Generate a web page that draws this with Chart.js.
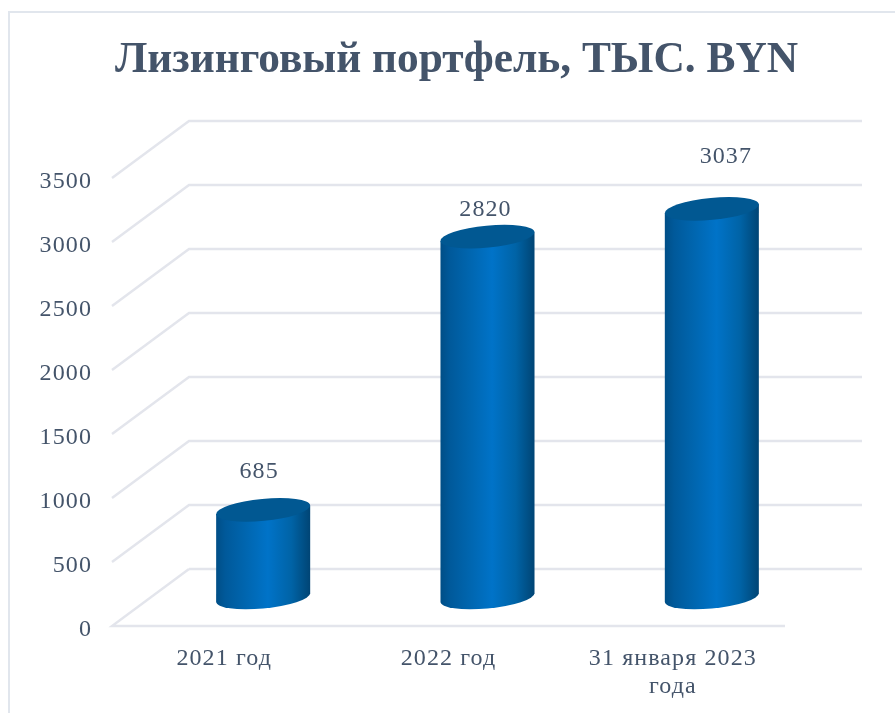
<!DOCTYPE html>
<html>
<head>
<meta charset="utf-8">
<script src="https://cdn.jsdelivr.net/npm/chart.js@4"></script>
<style>
  html, body { margin: 0; padding: 0; background: #fff; }
  #wrap { width: 895px; height: 713px; }
</style>
</head>
<body>
<div id="wrap"><canvas id="chart"></canvas></div>
<script>
const titleText = 'Лизинговый портфель, ТЫС. BYN';
const categories = ['2021 год', '2022 год', ['31 января 2023', 'года']];
const portfolio = [685, 2820, 3037];

const textColor = '#44546A';
const gridColor = '#E3E5EC';
const serif = '"Liberation Serif", serif';

// глубина "3D" стенки в пикселях
const depthX = 78;
const depthY = -57;
const tilt = -5.5 * Math.PI / 180;
const capRy = 11;
// подписи значений сдвинуты вручную, как в оригинале
const labelShift = [[-4, -38], [-2, -27], [14, -52]];

function cylinderPath(ctx, x, yTop, yBase, rx) {
  const t0 = Math.atan(-(capRy / rx) * Math.tan(tilt));
  ctx.beginPath();
  ctx.ellipse(x, yBase, rx, capRy, tilt, t0, t0 + Math.PI, false);
  ctx.ellipse(x, yTop, rx, capRy, tilt, t0 + Math.PI, t0 + Math.PI, false);
  ctx.ellipse(x, yTop, rx, capRy, tilt, t0, t0, false);
  ctx.closePath();
}

// задняя стенка, боковая стенка и пол
const wallPlugin = {
  id: 'wall',
  afterLayout(chart) {
    // заголовок центрирован по всей рамке, а не по области графика
    const title = chart.titleBlock;
    title.left = 90;
    title.right = 823;
    if (!title.wrapped) {
      const draw = title.draw;
      title.draw = function () {
        chart.ctx.letterSpacing = '0px';
        draw.call(title);
        chart.ctx.letterSpacing = '1.1px';
      };
      title.wrapped = true;
    }
  },
  beforeDatasetsDraw(chart) {
    const { ctx, chartArea, scales } = chart;
    ctx.save();
    ctx.strokeStyle = gridColor;
    ctx.lineWidth = 2.4;
    scales.y.ticks.forEach(tick => {
      const y = Math.round(scales.y.getPixelForValue(tick.value));
      ctx.beginPath();
      if (tick.value === 0) {
        ctx.moveTo(chartArea.right, y);
        ctx.lineTo(chartArea.left, y);
        ctx.lineTo(chartArea.left + 77, y + depthY);
      } else {
        ctx.moveTo(chartArea.left, y);
        ctx.lineTo(chartArea.left + 77, y + depthY);
        ctx.lineTo(chartArea.right + 77, y + depthY);
      }
      ctx.stroke();
    });
    // задняя линия пола
    const y0 = Math.round(scales.y.getPixelForValue(0)) + depthY;
    ctx.beginPath();
    ctx.moveTo(chartArea.left + 77, y0);
    ctx.lineTo(chartArea.right + 77, y0);
    ctx.stroke();
    ctx.restore();
  }
};

// цилиндры рисуются по геометрии столбцов Chart.js
const cylinderPlugin = {
  id: 'cylinder',
  afterDatasetsDraw(chart) {
    const { ctx } = chart;
    chart.getDatasetMeta(0).data.forEach((bar, i) => {
      const x = bar.x + depthX / 2;
      const yTop = bar.y + depthY / 2;
      const yBase = bar.base + depthY / 2;
      const rx = bar.width / 2;

      ctx.save();
      const body = ctx.createLinearGradient(x - rx, 0, x + rx, 0);
      body.addColorStop(0, '#004E86');
      body.addColorStop(0.1, '#00599A');
      body.addColorStop(0.3, '#0065AE');
      body.addColorStop(0.55, '#0073C8');
      body.addColorStop(0.8, '#0063A6');
      body.addColorStop(0.93, '#004F85');
      body.addColorStop(1, '#004474');
      cylinderPath(ctx, x, yTop, yBase, rx);
      ctx.fillStyle = body;
      ctx.fill();

      ctx.beginPath();
      ctx.ellipse(x, yTop, rx, capRy, tilt, 0, Math.PI * 2);
      ctx.fillStyle = '#015892';
      ctx.fill();
      ctx.restore();

      ctx.save();
      ctx.font = '24px ' + serif;
      ctx.fillStyle = textColor;
      ctx.textAlign = 'center';
      ctx.textBaseline = 'middle';
      ctx.fillText(String(portfolio[i]), x + labelShift[i][0], yTop + labelShift[i][1]);
      ctx.restore();
    });
  }
};

// рамка вокруг диаграммы
const framePlugin = {
  id: 'frame',
  beforeDraw(chart) {
    const { ctx } = chart;
    ctx.letterSpacing = '1.1px';
    ctx.save();
    ctx.fillStyle = '#fff';
    ctx.fillRect(0, 0, chart.width, chart.height);
    ctx.strokeStyle = '#E1E6ED';
    ctx.lineWidth = 2;
    ctx.beginPath();
    ctx.moveTo(9, chart.height);
    ctx.lineTo(9, 12);
    ctx.lineTo(chart.width, 12);
    ctx.stroke();
    ctx.restore();
  }
};

new Chart(document.getElementById('chart'), {
  type: 'bar',
  data: {
    labels: categories,
    datasets: [{
      data: portfolio,
      backgroundColor: 'rgba(0,0,0,0)',
      barPercentage: 0.421,
      categoryPercentage: 1
    }]
  },
  options: {
    responsive: true,
    maintainAspectRatio: false,
    animation: false,
    layout: { padding: { left: 0, right: 110, top: 0, bottom: 0 } },
    plugins: {
      legend: { display: false },
      tooltip: { enabled: false },
      title: {
        display: true,
        text: titleText,
        color: textColor,
        font: { family: serif, size: 43.4, weight: 'bold', lineHeight: 1.2 },
        padding: { top: 35, bottom: 91 }
      }
    },
    scales: {
      x: {
        grid: { display: false },
        border: { display: false },
        afterFit(scale) { scale.height = 87; },
        ticks: { color: textColor, font: { family: serif, size: 24, lineHeight: 1.2 }, padding: 10, maxRotation: 0 }
      },
      y: {
        min: 0,
        max: 3500,
        grid: { display: false },
        border: { display: false },
        afterFit(scale) { scale.width = 112; },
        ticks: {
          stepSize: 500,
          color: textColor,
          font: { family: serif, size: 24 },
          padding: 12,
          labelOffset: 4,
          callback: value => String(value)
        }
      }
    }
  },
  plugins: [framePlugin, wallPlugin, cylinderPlugin]
});
</script>
</body>
</html>
